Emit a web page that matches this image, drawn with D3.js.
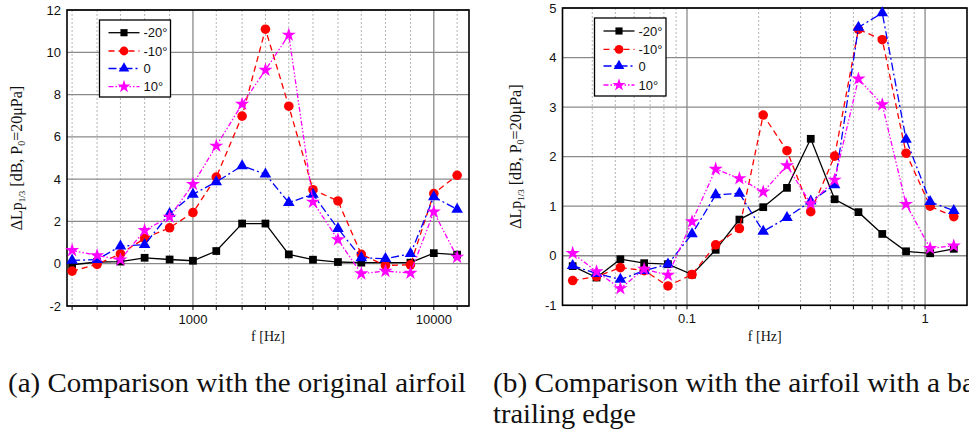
<!DOCTYPE html>
<html>
<head>
<meta charset="utf-8">
<script src="https://d3js.org/d3.v7.min.js"></script>
<style>
  body { margin: 0; background: #fff; }
  svg { display: block; }
  .tick-label { font: 13px "Liberation Sans", Arial, sans-serif; fill: #111; }
  .legend-text { font: 13px "Liberation Sans", Arial, sans-serif; fill: #111; }
  .serif { font-family: "Liberation Serif", serif; fill: #111; }
</style>
</head>
<body>
<div id="chart"></div>
<script>
// one-third octave band centres (Hz) used in panel (a)
const freqs = [315, 400, 500, 630, 800, 1000, 1250, 1600, 2000, 2500, 3150, 4000, 5000, 6300, 8000, 10000, 12500];
// matching non-dimensional frequency used in panel (b)
const freqsB = [0.0331, 0.0417, 0.0525, 0.0661, 0.0832, 0.105, 0.132, 0.166, 0.209, 0.263, 0.331, 0.417, 0.525, 0.661, 0.832, 1.05, 1.32];

const seriesNames = ["-20°", "-10°", "0", "10°"];

// panel (a): comparison with the original airfoil
const aM20 = [-0.05, 0.08, 0.1, 0.28, 0.2, 0.14, 0.6, 1.9, 1.9, 0.44, 0.19, 0.08, 0.05, 0.05, 0.05, 0.5, 0.43];
const aM10 = [-0.35, -0.03, 0.47, 1.2, 1.7, 2.42, 4.1, 6.98, 11.09, 7.45, 3.5, 2.97, 0.44, -0.08, -0.05, 3.32, 4.18];
const a0   = [0.16, 0.19, 0.83, 0.9, 2.37, 3.28, 3.87, 4.63, 4.23, 2.89, 3.28, 1.66, 0.28, 0.24, 0.47, 3.16, 2.57];
const aP10 = [0.63, 0.39, 0.19, 1.58, 2.21, 3.76, 5.57, 7.55, 9.16, 10.82, 2.92, 1.14, -0.47, -0.35, -0.44, 2.45, 0.31];

// panel (b): comparison with the airfoil with a modified trailing edge
const bM20 = [-0.21, -0.44, -0.07, -0.15, -0.17, -0.38, 0.12, 0.73, 0.98, 1.37, 2.36, 1.14, 0.88, 0.44, 0.09, 0.05, 0.14];
const bM10 = [-0.5, -0.42, -0.24, -0.3, -0.61, -0.38, 0.22, 0.55, 2.84, 2.12, 0.89, 2.01, 4.57, 4.36, 2.07, 1.0, 0.79];
const b0   = [-0.2, -0.36, -0.48, -0.3, -0.17, 0.44, 1.23, 1.26, 0.49, 0.77, 1.1, 1.43, 4.61, 4.9, 2.35, 1.09, 0.91];
const bP10 = [0.05, -0.32, -0.66, -0.27, -0.39, 0.69, 1.75, 1.56, 1.29, 1.82, 1.05, 1.53, 3.57, 3.05, 1.04, 0.15, 0.2];

const yTicksA = [-2, 0, 2, 4, 6, 8, 10, 12];
const yTicksB = [-1, 0, 1, 2, 3, 4, 5];
const xLabelsA = [1000, 10000];
const xLabelsB = [0.1, 1];
const xMinorB = [0.04, 0.05, 0.06, 0.07, 0.08, 0.09, 0.2, 0.3, 0.4, 0.5, 0.6, 0.7, 0.8, 0.9];

const styles = [
  {color: "#000000", dash: null, symbol: d3.symbolSquare, size: 60},
  {color: "#ff0000", dash: "6,4", symbol: d3.symbolCircle, size: 72},
  {color: "#0000ff", dash: "8,3,2,3", symbol: d3.symbolTriangle, size: 58},
  {color: "#ff00ff", dash: "5,2,1.5,2,1.5,2", symbol: d3.symbolStar, size: 62}
];

const svg = d3.select("#chart").append("svg")
  .attr("width", 969).attr("height", 432);
svg.append("rect").attr("width", 969).attr("height", 432).attr("fill", "#fff");

function drawPanel(cfg) {
  const x = d3.scaleLog().domain(cfg.xDomain).range([cfg.left, cfg.right]);
  const y = d3.scaleLinear().domain(cfg.yDomain).range([cfg.bottom, cfg.top]);
  const g = svg.append("g");

  // minor vertical grid (dotted)
  g.selectAll(".vminor").data(cfg.xMinor).enter().append("line")
    .attr("x1", d => x(d)).attr("x2", d => x(d))
    .attr("y1", cfg.top).attr("y2", cfg.bottom)
    .attr("stroke", "#b5b5b5").attr("stroke-width", 1).attr("stroke-dasharray", "2,2");
  // major vertical grid
  g.selectAll(".vmajor").data(cfg.xLabels).enter().append("line")
    .attr("x1", d => x(d)).attr("x2", d => x(d))
    .attr("y1", cfg.top).attr("y2", cfg.bottom)
    .attr("stroke", "#8a8a8a").attr("stroke-width", 1.3);
  // horizontal grid
  g.selectAll(".hmajor").data(cfg.yTicks).enter().append("line")
    .attr("x1", cfg.left).attr("x2", cfg.right)
    .attr("y1", d => y(d)).attr("y2", d => y(d))
    .attr("stroke", "#8a8a8a").attr("stroke-width", 1.3);

  // bottom ticks
  g.selectAll(".btick").data(cfg.xMinor.concat(cfg.xLabels)).enter().append("line")
    .attr("x1", d => x(d)).attr("x2", d => x(d))
    .attr("y1", cfg.bottom).attr("y2", cfg.bottom + 4)
    .attr("stroke", "#000").attr("stroke-width", 1);

  // frame
  g.append("rect")
    .attr("x", cfg.left).attr("y", cfg.top)
    .attr("width", cfg.right - cfg.left).attr("height", cfg.bottom - cfg.top)
    .attr("fill", "none").attr("stroke", "#000").attr("stroke-width", 1.6);

  // tick labels
  g.selectAll(".ylab").data(cfg.yTicks).enter().append("text")
    .attr("class", "tick-label")
    .attr("x", cfg.left - 6).attr("y", d => y(d)).attr("dy", "0.35em")
    .attr("text-anchor", "end").text(d => d);
  g.selectAll(".xlab").data(cfg.xLabels).enter().append("text")
    .attr("class", "tick-label")
    .attr("x", d => x(d)).attr("y", cfg.bottom + 18)
    .attr("text-anchor", "middle").text(d => d);

  // axis titles
  const yl = g.append("text").attr("class", "serif")
    .attr("transform", `translate(${cfg.yLabelX},${(cfg.top + cfg.bottom) / 2}) rotate(-90)`)
    .attr("text-anchor", "middle").style("font-size", "16px");
  yl.append("tspan").text("ΔLp");
  yl.append("tspan").attr("dy", 3).style("font-size", "9px").text("1/3");
  yl.append("tspan").attr("dy", -3).text(" [dB, P");
  yl.append("tspan").attr("dy", 3).style("font-size", "10px").text("0");
  yl.append("tspan").attr("dy", -3).text("=20μPa]");

  g.append("text").attr("class", "serif")
    .attr("x", (cfg.left + cfg.right) / 2).attr("y", 341)
    .attr("text-anchor", "middle").style("font-size", "14px").text("f [Hz]");

  // series
  const line = d3.line().x(d => x(d[0])).y(d => y(d[1]));
  cfg.series.forEach((vals, i) => {
    const st = styles[i];
    const pts = cfg.xs.map((f, j) => [f, vals[j]]);
    g.append("path").datum(pts).attr("d", line)
      .attr("fill", "none").attr("stroke", st.color).attr("stroke-width", 1.3)
      .attr("stroke-dasharray", st.dash);
    g.selectAll(null).data(pts).enter().append("path")
      .attr("transform", d => `translate(${x(d[0])},${y(d[1])})`)
      .attr("d", d3.symbol().type(st.symbol).size(st.size))
      .attr("fill", st.color);
  });

  // legend
  const lg = g.append("g");
  lg.append("rect")
    .attr("x", cfg.legend.x).attr("y", cfg.legend.y)
    .attr("width", cfg.legend.w).attr("height", cfg.legend.h)
    .attr("fill", "#fff").attr("stroke", "#000").attr("stroke-width", 1.3);
  seriesNames.forEach((name, i) => {
    const st = styles[i];
    const ly = cfg.legend.rows[i];
    const lx = cfg.legend.x + 9;
    lg.append("line").attr("x1", lx).attr("x2", lx + 31).attr("y1", ly).attr("y2", ly)
      .attr("stroke", st.color).attr("stroke-width", 1.3).attr("stroke-dasharray", st.dash);
    lg.append("path").attr("transform", `translate(${lx + 15.5},${ly})`)
      .attr("d", d3.symbol().type(st.symbol).size(st.size * 0.85)).attr("fill", st.color);
    lg.append("text").attr("class", "legend-text")
      .attr("x", lx + 35).attr("y", ly).attr("dy", "0.36em").text(name);
  });
}

drawPanel({
  left: 67, right: 469, top: 10, bottom: 306,
  xDomain: [300, 14000], yDomain: [-2, 12],
  xs: freqs, xMinor: freqs.filter(f => f !== 1000 && f !== 10000),
  xLabels: xLabelsA, yTicks: yTicksA, yLabelX: 22,
  series: [aM20, aM10, a0, aP10],
  legend: {x: 99.5, y: 20, w: 71, h: 77, rows: [32.7, 51, 68.5, 86.7]}
});

drawPanel({
  left: 562.5, right: 967, top: 8, bottom: 305.3,
  xDomain: [0.03, 1.5], yDomain: [-1, 5],
  xs: freqsB, xMinor: xMinorB,
  xLabels: xLabelsB, yTicks: yTicksB, yLabelX: 521,
  series: [bM20, bM10, b0, bP10],
  legend: {x: 594.5, y: 18, w: 71.5, h: 78, rows: [31, 49.3, 66, 85]}
});

// captions
svg.append("text").attr("class", "serif")
  .attr("x", 8).attr("y", 392).style("font-size", "27px")
  .attr("textLength", 458).attr("lengthAdjust", "spacingAndGlyphs")
  .text("(a) Comparison with the original airfoil");
svg.append("text").attr("class", "serif")
  .attr("x", 493).attr("y", 392).style("font-size", "27px")
  .attr("textLength", 482).attr("lengthAdjust", "spacingAndGlyphs")
  .text("(b) Comparison with the airfoil with a ba");
svg.append("text").attr("class", "serif")
  .attr("x", 493).attr("y", 423).style("font-size", "27px")
  .attr("textLength", 143).attr("lengthAdjust", "spacingAndGlyphs")
  .text("trailing edge");
</script>
</body>
</html>
